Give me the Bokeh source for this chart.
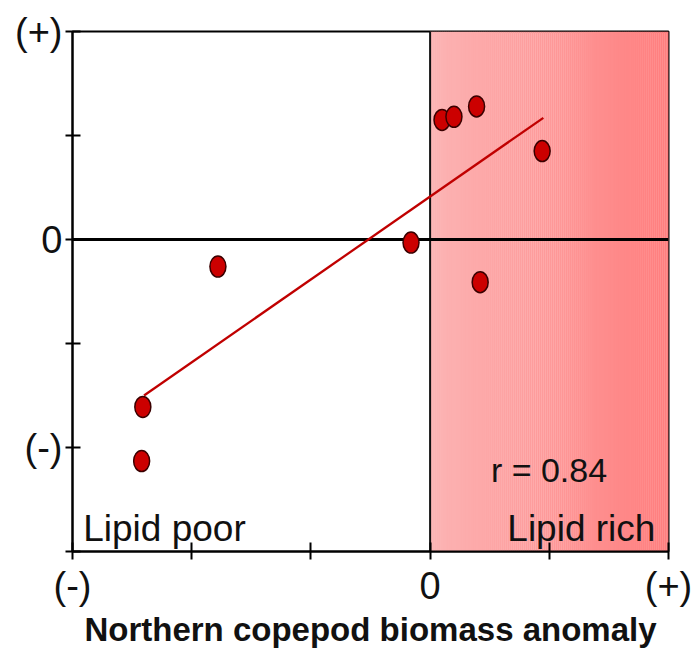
from bokeh.plotting import figure
from bokeh.models import Range1d, FixedTicker, Label
from bokeh.embed import file_html
from bokeh.resources import INLINE

# ---- data (anomaly units) ----
copepod_anomaly = [-2.41, -2.42, -1.78, -0.16, 0.10, 0.20, 0.39, 0.42, 0.94]
lipid_anomaly = [-1.61, -2.13, -0.26, -0.03, 1.15, 1.18, 1.28, -0.41, 0.85]
fit_x = [-2.40, 0.95]
fit_y = [-1.50, 1.17]
r_text = "r = 0.84"
x_ticks = [-3, -2, -1, 0, 1, 2]
x_tick_labels = ["(-)", "", "", "0", "", "(+)"]
y_ticks = [-3, -2, -1, 0, 1, 2]
y_tick_labels = ["", "(-)", "", "0", "", "(+)"]
x_title = "Northern copepod biomass anomaly"
rich_x = [0, 2]          # lipid-rich shaded zone
x_lim = [-3, 2]
y_lim = [-3, 2]

FONT = "Liberation Sans"

p = figure(width=693, height=653, output_backend="svg", toolbar_location=None,
           x_range=Range1d(*x_lim), y_range=Range1d(*y_lim),
           min_border_left=72, min_border_right=25, min_border_top=31,
           min_border_bottom=102)
p.grid.visible = False
p.background_fill_color = "white"
p.border_fill_color = "white"
p.outline_line_color = "black"
p.outline_line_width = 2

# gradient shading of the lipid-rich zone
n = 120
c0 = (252, 180, 180)
c1 = (255, 126, 126)
lefts, rights, cols = [], [], []
w = (rich_x[1] - rich_x[0]) / n
for i in range(n):
    t = i / (n - 1)
    rgb = tuple(int(round(a + (b - a) * t)) for a, b in zip(c0, c1))
    lefts.append(rich_x[0] + i * w)
    rights.append(rich_x[0] + (i + 1) * w + 0.002)
    cols.append("#%02x%02x%02x" % rgb)
p.quad(left=lefts, right=rights, bottom=y_lim[0], top=y_lim[1],
       fill_color=cols, line_color=None)

# reference lines at zero
p.segment(x0=[rich_x[0]], y0=[y_lim[0]], x1=[rich_x[0]], y1=[y_lim[1]],
          line_color="#111111", line_width=2)
p.segment(x0=[x_lim[0]], y0=[0], x1=[x_lim[1]], y1=[0],
          line_color="black", line_width=3)

# regression line
p.line(fit_x, fit_y, line_color="#c00000", line_width=2.3)

# points
p.ellipse(x=copepod_anomaly, y=lipid_anomaly, width=16, height=21,
          width_units="screen", height_units="screen",
          fill_color="#cc0000", line_color="#3a0000", line_width=1.5)

# texts
p.add_layout(Label(x=-2.91, y=-2.78, text="Lipid poor", text_font=FONT,
                   text_font_size="37px", text_color="#111111",
                   text_baseline="alphabetic", text_align="left"))
p.add_layout(Label(x=1.89, y=-2.78, text="Lipid rich", text_font=FONT,
                   text_font_size="37px", text_color="#111111",
                   text_baseline="alphabetic", text_align="right"))
p.add_layout(Label(x=0.51, y=-2.215, text=r_text, text_font=FONT,
                   text_font_size="34px", text_color="#111111",
                   text_baseline="alphabetic", text_align="left"))

# axes
for ax, ticks, labels in ((p.xaxis, x_ticks, x_tick_labels),
                          (p.yaxis, y_ticks, y_tick_labels)):
    ax.ticker = FixedTicker(ticks=ticks)
    ax.major_label_overrides = {t: l for t, l in zip(ticks, labels)}
    ax.minor_tick_line_color = None
    ax.axis_line_color = "black"
    ax.axis_line_width = 2
    ax.major_tick_line_color = "black"
    ax.major_tick_line_width = 2
    ax.major_label_text_font = FONT
    ax.major_label_text_font_size = "38px"
    ax.major_label_text_color = "#111111"

p.yaxis.major_tick_out = 7
p.yaxis.major_tick_in = 8
p.yaxis.major_label_standoff = 3
p.xaxis.major_tick_out = 8
p.xaxis.major_tick_in = 9
p.xaxis.major_label_standoff = 5
p.xaxis.axis_label = x_title
p.xaxis.axis_label_text_font = FONT
p.xaxis.axis_label_text_font_style = "bold"
p.xaxis.axis_label_text_font_size = "33px"
p.xaxis.axis_label_text_color = "#111111"
p.xaxis.axis_label_standoff = 1

open("out.html", "w").write(file_html(p, INLINE))
